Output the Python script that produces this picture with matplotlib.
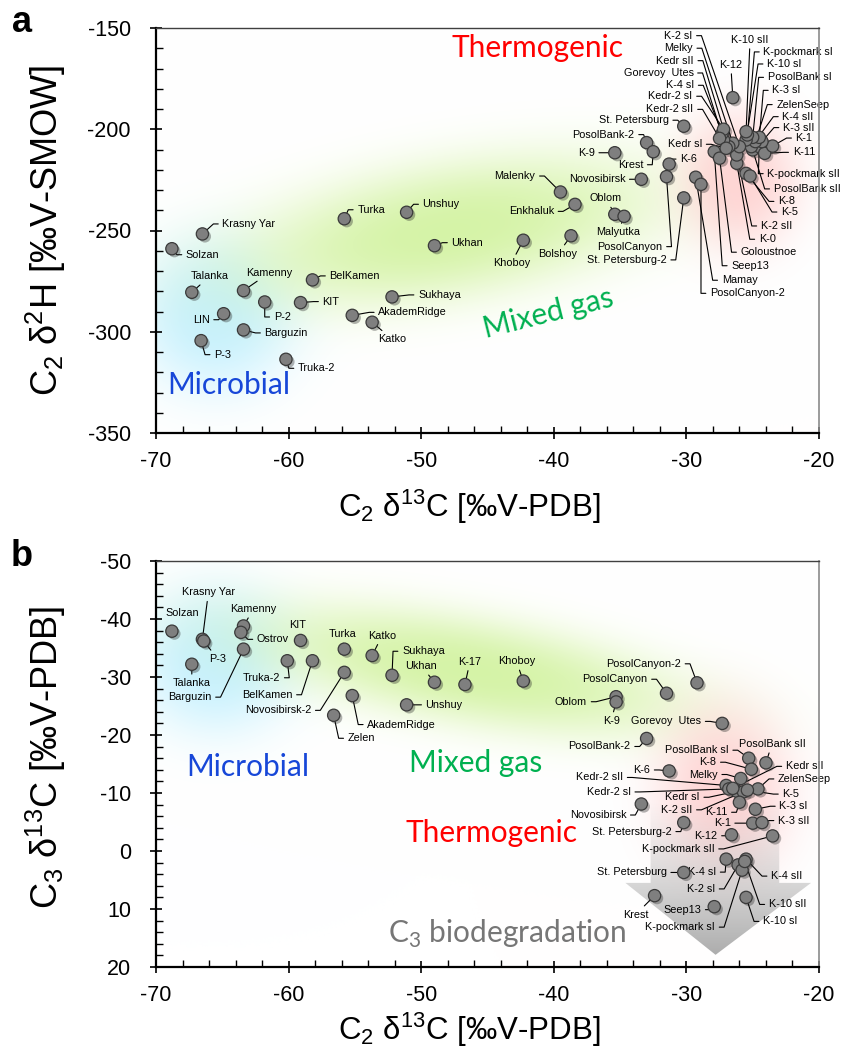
import numpy as np
import matplotlib.pyplot as plt
import matplotlib.patheffects as pe
from matplotlib.patches import Polygon
from matplotlib.ticker import MultipleLocator

plt.rcParams['font.family'] = ['Liberation Sans', 'DejaVu Sans']
plt.rcParams['mathtext.fontset'] = 'custom'
plt.rcParams['mathtext.rm'] = 'Liberation Sans'
plt.rcParams['axes.unicode_minus'] = False

# ---- panel a : C2 d13C vs C2 d2H ----
names_a = ['Solzan', 'Krasny Yar', 'Talanka', 'Kamenny', 'LIN', 'P-2', 'KIT', 'BelKamen', 'Barguzin', 'P-3',
           'Truka-2', 'Turka', 'Unshuy', 'Ukhan', 'AkademRidge', 'Katko', 'Sukhaya', 'Khoboy', 'Malenky', 'Enkhaluk',
           'Bolshoy', 'Oblom', 'Malyutka', 'K-9', 'Novosibirsk', 'PosolBank-2', 'Krest', 'St. Petersburg', 'K-6', 'PosolCanyon',
           'St. Petersburg-2', 'Mamay', 'PosolCanyon-2', 'K-12', 'Seep13', 'Goloustnoe', 'K-0', 'K-2 sII', 'K-8', 'K-5',
           'PosolBank sII', 'K-pockmark sII', 'K-11', 'K-1', 'K-3 sII', 'K-4 sII', 'ZelenSeep', 'K-3 sI', 'PosolBank sI', 'K-10 sI',
           'K-pockmark sI', 'K-10 sII', 'K-2 sI', 'Melky', 'Kedr sII', 'Gorevoy  Utes', 'K-4 sI', 'Kedr-2 sI', 'Kedr-2 sII', 'Kedr sI']
c2_d13c_a = [-68.8, -66.5, -67.3, -63.4, -64.9, -61.8, -59.1, -58.2, -63.4, -66.6,
             -60.2, -55.8, -51.1, -49.0, -55.2, -53.7, -52.2, -42.3, -39.5, -38.4,
             -38.7, -35.4, -34.7, -35.4, -33.4, -33.0, -32.5, -30.2, -31.3, -31.5,
             -30.2, -29.3, -28.9, -26.5, -27.9, -27.5, -26.2, -26.2, -25.5, -25.2,
             -25.0, -24.5, -24.1, -23.5, -24.3, -25.1, -24.8, -24.5, -25.0, -25.5,
             -25.4, -25.5, -26.0, -26.5, -26.8, -27.2, -27.3, -27.2, -27.5, -27.0]
c2_d2h_a = [-259.0, -251.7, -280.5, -279.7, -291.1, -285.3, -285.6, -274.4, -299.1, -304.4,
            -313.6, -244.2, -241.0, -257.5, -291.9, -295.3, -282.8, -254.8, -231.0, -237.1,
            -252.6, -242.0, -243.0, -211.6, -224.7, -206.6, -211.1, -198.5, -217.2, -223.4,
            -233.9, -223.7, -227.2, -184.4, -211.1, -214.3, -216.8, -212.7, -221.8, -223.1,
            -210.2, -208.6, -211.9, -208.3, -206.1, -208.6, -206.1, -204.0, -204.0, -205.3,
            -202.8, -201.2, -208.6, -206.9, -208.6, -205.3, -202.0, -200.0, -204.5, -209.4]

# ---- panel b : C2 d13C vs C3 d13C ----
names_b = ['Solzan', 'Krasny Yar', 'P-3', 'Talanka', 'Kamenny', 'Ostrov', 'Barguzin', 'KIT', 'Truka-2', 'BelKamen',
           'Turka', 'Novosibirsk-2', 'Katko', 'AkademRidge', 'Zelen', 'Sukhaya', 'Ukhan', 'Unshuy', 'K-17', 'Khoboy',
           'Oblom', 'K-9', 'PosolCanyon', 'PosolCanyon-2', 'Gorevoy  Utes', 'PosolBank-2', 'PosolBank sI', 'PosolBank sII', 'K-8', 'Melky',
           'K-6', 'Kedr-2 sII', 'Kedr-2 sI', 'Kedr sI', 'K-2 sII', 'Kedr sII', 'ZelenSeep', 'K-5', 'K-11', 'K-3 sI',
           'K-1', 'K-3 sII', 'K-12', 'K-pockmark sII', 'Novosibirsk', 'St. Petersburg-2', 'St. Petersburg', 'K-4 sI', 'K-4 sII', 'K-2 sI',
           'K-pockmark sI', 'K-10 sII', 'Krest', 'Seep13', 'K-10 sI']
c2_d13c_b = [-68.8, -66.5, -66.4, -67.3, -63.4, -63.6, -63.4, -59.1, -60.1, -58.2,
             -55.8, -55.8, -53.7, -55.2, -56.6, -52.2, -49.0, -51.1, -46.7, -42.3,
             -35.3, -35.3, -31.5, -29.2, -27.3, -33.0, -25.3, -24.0, -25.1, -25.9,
             -31.3, -27.0, -26.8, -26.2, -25.7, -26.5, -24.6, -25.4, -26.0, -24.8,
             -25.0, -24.3, -26.6, -23.5, -33.4, -30.2, -30.2, -27.0, -25.5, -26.1,
             -25.8, -25.6, -32.4, -27.9, -25.5]
c3_d13c_b = [-37.9, -36.5, -36.2, -32.2, -38.8, -37.7, -34.8, -36.3, -32.8, -32.8,
             -34.8, -30.8, -33.7, -26.8, -23.4, -30.3, -29.1, -25.2, -28.7, -29.3,
             -26.6, -25.7, -27.2, -29.0, -22.0, -19.4, -16.0, -15.2, -14.1, -12.5,
             -13.8, -11.3, -10.7, -10.3, -10.2, -10.8, -10.7, -10.5, -8.4, -7.2,
             -4.8, -4.9, -2.8, -2.6, -8.1, -4.9, 3.7, 1.4, 1.4, 2.4,
             3.3, 1.8, 7.7, 9.6, 8.0]

# label placement: offset in pixels from the point, alignment
lab_a = {
    'Solzan': (14, -6, 'left'), 'Krasny Yar': (20, 10, 'left'), 'Talanka': (18, 16, 'center'),
    'Kamenny': (26, 18, 'center'), 'LIN': (-14, -6, 'right'), 'P-2': (9, -15, 'left'),
    'KIT': (22, 1, 'left'), 'BelKamen': (17, 4, 'left'), 'Barguzin': (21, -3, 'left'),
    'P-3': (13, -14, 'left'), 'Truka-2': (12, -9, 'left'), 'Turka': (13, 9, 'left'),
    'Unshuy': (16, 8, 'left'), 'Ukhan': (17, 3, 'left'), 'AkademRidge': (26, 3, 'left'),
    'Katko': (20, -17, 'center'), 'Sukhaya': (26, 2, 'left'), 'Khoboy': (-12, -23, 'center'),
    'Malenky': (-25, 16, 'right'), 'Enkhaluk': (-21, -7, 'right'), 'Bolshoy': (-13, -18, 'center'),
    'Oblom': (-9, 16, 'center'), 'Malyutka': (-6, -16, 'center'), 'K-9': (-20, 0, 'right'),
    'Novosibirsk': (-16, 0, 'right'), 'PosolBank-2': (-12, 8, 'right'), 'Krest': (-10, -13, 'right'),
    'St. Petersburg': (-15, 6, 'right'), 'K-6': (11, 5, 'left'), 'PosolCanyon': (-4, -70, 'right'),
    'St. Petersburg-2': (-17, -62, 'right'), 'Mamay': (26, -103, 'left'), 'PosolCanyon-2': (9, -109, 'left'),
    'K-12': (-2, 33, 'center'), 'Seep13': (17, -114, 'left'), 'Goloustnoe': (21, -94, 'left'),
    'K-0': (22, -76, 'left'), 'K-2 sII': (24, -71, 'left'), 'K-8': (32, -28, 'left'),
    'K-5': (31, -36, 'left'), 'PosolBank sII': (21, -39, 'left'), 'K-pockmark sII': (8, -27, 'left'),
    'K-11': (28, 1, 'left'), 'K-1': (23, 8, 'left'), 'K-3 sII': (21, 14, 'left'),
    'K-4 sII': (31, 30, 'left'), 'ZelenSeep': (21, 37, 'left'), 'K-3 sI': (13, 47, 'left'),
    'PosolBank sI': (15, 60, 'left'), 'K-10 sI': (21, 76, 'left'), 'K-pockmark sI': (16, 83, 'left'),
    'K-10 sII': (4, 92, 'center'), 'K-2 sI': (-47, 111, 'right'), 'Melky': (-40, 95, 'right'),
    'Kedr sII': (-35, 86, 'right'), 'Gorevoy  Utes': (-30, 67, 'right'), 'K-4 sI': (-28, 48, 'right'),
    'Kedr-2 sI': (-31, 33, 'right'), 'Kedr-2 sII': (-26, 29, 'right'), 'Kedr sI': (-24, 4, 'right'),
}
lab_b = {
    'Solzan': (10, 18, 'center'), 'Krasny Yar': (6, 47, 'center'), 'P-3': (14, -18, 'center'),
    'Talanka': (0, -19, 'center'), 'Kamenny': (10, 17, 'center'), 'Ostrov': (16, -7, 'left'),
    'Barguzin': (-32, -48, 'right'), 'KIT': (-3, 15, 'center'), 'Truka-2': (-7, -17, 'right'),
    'BelKamen': (-20, -34, 'right'), 'Turka': (-2, 15, 'center'), 'Novosibirsk-2': (-33, -38, 'right'),
    'Katko': (10, 20, 'center'), 'AkademRidge': (15, -29, 'left'), 'Zelen': (14, -23, 'left'),
    'Sukhaya': (10, 24, 'left'), 'Ukhan': (-13, 16, 'center'), 'Unshuy': (19, 0, 'left'),
    'K-17': (5, 23, 'center'), 'Khoboy': (-7, 20, 'center'), 'Oblom': (-29, -5, 'right'),
    'K-9': (-5, -19, 'center'), 'PosolCanyon': (-19, 14, 'right'), 'PosolCanyon-2': (-16, 19, 'right'),
    'Gorevoy  Utes': (-21, 2, 'right'), 'PosolBank-2': (-16, -8, 'right'), 'PosolBank sI': (-20, 8, 'right'),
    'PosolBank sII': (6, 19, 'center'), 'K-8': (-35, 7, 'right'), 'Melky': (-23, 4, 'right'),
    'K-6': (-19, 1, 'right'), 'Kedr-2 sII': (-103, 8, 'right'), 'Kedr-2 sI': (-98, -3, 'right'),
    'Kedr sI': (-37, -6, 'right'), 'K-2 sII': (-51, -18, 'right'), 'Kedr sII': (53, 22, 'left'),
    'ZelenSeep': (20, 10, 'left'), 'K-5': (35, -4, 'left'), 'K-11': (-12, -10, 'right'),
    'K-3 sI': (24, 3, 'left'), 'K-1': (-22, 0, 'right'), 'K-3 sII': (16, 2, 'left'),
    'K-12': (-14, -1, 'right'), 'K-pockmark sII': (-58, -13, 'right'), 'Novosibirsk': (-15, -11, 'right'),
    'St. Petersburg-2': (-12, -9, 'right'), 'St. Petersburg': (-17, 0, 'right'), 'K-4 sI': (-10, -13, 'right'),
    'K-4 sII': (25, -17, 'left'), 'K-2 sI': (-23, -24, 'right'), 'K-pockmark sI': (-27, -57, 'right'),
    'K-10 sII': (24, -43, 'left'), 'Krest': (-19, -19, 'center'), 'Seep13': (-13, -3, 'right'),
    'K-10 sI': (17, -24, 'left'),
}

W, H = 843, 1050
fig = plt.figure(figsize=(W / 100, H / 100), dpi=100)
ax_a = fig.add_axes([156 / W, 1 - 433 / H, 663 / W, 405 / H])
ax_b = fig.add_axes([156 / W, 1 - 967 / H, 663 / W, 406 / H])


def glow(ax, blobs, wpx, hpx):
    # soft coloured zones, centres in axes fraction, radii in pixels
    fx, fy = np.meshgrid(np.linspace(0, 1, 420), np.linspace(0, 1, 260))
    img = np.ones((260, 420, 3))
    for cx, cy, rx, ry, ang, col, amax in blobs:
        u = (fx - cx) * wpx
        v = (fy - cy) * hpx
        t = np.radians(ang)
        ur = u * np.cos(t) + v * np.sin(t)
        vr = -u * np.sin(t) + v * np.cos(t)
        r2 = (ur / rx) ** 2 + (vr / ry) ** 2
        a = (amax * np.exp(-2.0 * r2 ** 1.3))[..., None]
        img = img * (1 - a) + np.array(col) * a
    ax.imshow(img, extent=(0, 1, 0, 1), transform=ax.transAxes, origin='lower',
              aspect='auto', zorder=0, interpolation='bilinear')


def dots(ax, xs, ys):
    ax.scatter(xs, ys, s=78, c='#7f7f7f', edgecolors='#3a3a3a', linewidths=0.9, zorder=3,
               path_effects=[pe.SimplePatchShadow(offset=(1.8, -1.8), alpha=0.35), pe.Normal()])


def labels(ax, names, xs, ys, lab, noline=()):
    for n, x, y in zip(names, xs, ys):
        dx, dy, ha = lab[n]
        if n in noline:
            ax.annotate(n, (x, y), xytext=(dx, dy), textcoords='offset pixels', ha=ha, va='center',
                        fontsize=7.8, zorder=2)
            continue
        if ha == 'left':
            cs, rp = 'arc,angleA=180,armA=9,rad=0', (0, 0.5)
        elif ha == 'right':
            cs, rp = 'arc,angleA=0,armA=9,rad=0', (1, 0.5)
        else:
            cs, rp = 'arc3', (0.5, 0.5)
        ax.annotate(n, (x, y), xytext=(dx, dy), textcoords='offset pixels', ha=ha, va='center',
                    fontsize=7.8, zorder=2,
                    arrowprops=dict(arrowstyle='-', color='black', lw=0.8, shrinkA=1, shrinkB=0,
                                    relpos=rp, connectionstyle=cs))


def frame(ax, ymaj, ymin):
    ax.set_xlim(-70, -20)
    ax.xaxis.set_major_locator(MultipleLocator(10))
    ax.xaxis.set_minor_locator(MultipleLocator(2))
    ax.yaxis.set_major_locator(MultipleLocator(ymaj))
    ax.yaxis.set_minor_locator(MultipleLocator(ymin))
    ax.tick_params(which='major', direction='inout', length=8, width=1.2, labelsize=15.5, colors='black')
    ax.tick_params(which='minor', direction='in', length=5, width=1.0)
    ax.tick_params(axis='x', which='major', pad=9)
    ax.tick_params(axis='y', which='major', pad=14)
    for s in ['left', 'bottom']:
        ax.spines[s].set_linewidth(1.6)
    ax.spines['top'].set_color('#404040')
    ax.spines['right'].set_color('#8a8a8a')
    ax.spines['top'].set_linewidth(1.0)
    ax.spines['right'].set_linewidth(1.2)


# ---------- panel a ----------
glow(ax_a, [
    (0.089, 0.29, 105, 100, 0, (0.76, 0.94, 1.0), 0.9),
    (0.443, 0.50, 275, 88, 9.5, (0.82, 0.95, 0.62), 0.9),
    (0.881, 0.625, 78, 90, 0, (1.0, 0.80, 0.80), 0.8),
], 663, 405)
dots(ax_a, c2_d13c_a, c2_d2h_a)
labels(ax_a, names_a, c2_d13c_a, c2_d2h_a, lab_a)
frame(ax_a, 50, 10)
ax_a.set_ylim(-350, -150)

reg = dict(family=['Lato', 'DejaVu Sans'], ha='center', va='center', zorder=1)
ax_a.text(-41.2, -159.9, 'Thermogenic', color='#ff0000', fontsize=21.5, **reg)
ax_a.text(-40.4, -290.7, 'Mixed gas', color='#00b050', fontsize=21.5, rotation=14, **reg)
ax_a.text(-64.5, -326.3, 'Microbial', color='#1747d8', fontsize=21.5, **reg)

# ---------- panel b ----------
glow(ax_b, [
    (0.089, 0.756, 105, 95, 0, (0.76, 0.94, 1.0), 0.9),
    (0.474, 0.731, 285, 70, -9.7, (0.82, 0.95, 0.62), 0.9),
    (0.858, 0.436, 88, 108, 0, (1.0, 0.80, 0.80), 0.8),
], 663, 406)

# grey arrow for C3 biodegradation
arrow_xy = [(-32.7, -9), (-23.0, -9), (-23.0, 5.5), (-20.6, 5.5), (-27.8, 17.9),
            (-34.6, 5.5), (-32.7, 5.5)]
grad = np.linspace(0, 1, 200)[:, None] * np.ones((1, 10))
rgba = np.zeros((200, 10, 4))
rgba[..., :3] = 0.62
rgba[..., 3] = 0.85 * grad ** 1.2
im = ax_b.imshow(rgba, extent=(-34.6, -20.6, 17.9, -9), origin='upper', aspect='auto', zorder=0.5)
poly = Polygon(arrow_xy, closed=True, transform=ax_b.transData, facecolor='none', edgecolor='none')
ax_b.add_patch(poly)
im.set_clip_path(poly)

dots(ax_b, c2_d13c_b, c3_d13c_b)
labels(ax_b, names_b, c2_d13c_b, c3_d13c_b, lab_b, noline=('Solzan',))
frame(ax_b, 10, 2)
ax_b.set_ylim(20, -50)

ax_b.text(-63.1, -14.5, 'Microbial', color='#1747d8', fontsize=21.5, **reg)
ax_b.text(-45.9, -15.2, 'Mixed gas', color='#00b050', fontsize=21.5, **reg)
ax_b.text(-44.7, -3.1, 'Thermogenic', color='#ff0000', fontsize=21.5, **reg)
ax_b.text(-43.5, 14.3, r'C$_\mathregular{3}$ biodegradation', color='#767676', fontsize=21.5, **reg)

# axis titles and panel letters
xl = r'C$_\mathregular{2}$ δ$^\mathregular{13}$C [‰V-PDB]'
fig.text(469 / W, 1 - 507 / H, xl, ha='center', va='center', fontsize=22.5)
fig.text(469 / W, 1 - 1030 / H, xl, ha='center', va='center', fontsize=22.5)
fig.text(46 / W, 1 - 230 / H, r'C$_\mathregular{2}$ δ$^\mathregular{2}$H [‰V-SMOW]',
         ha='center', va='center', rotation=90, fontsize=26)
fig.text(46 / W, 1 - 757 / H, r'C$_\mathregular{3}$ δ$^\mathregular{13}$C [‰V-PDB]',
         ha='center', va='center', rotation=90, fontsize=26)
fig.text(22 / W, 1 - 22 / H, 'a', ha='center', va='center', fontsize=26, fontweight='bold')
fig.text(22 / W, 1 - 556 / H, 'b', ha='center', va='center', fontsize=26, fontweight='bold')

fig.savefig('out.png', dpi=100)
